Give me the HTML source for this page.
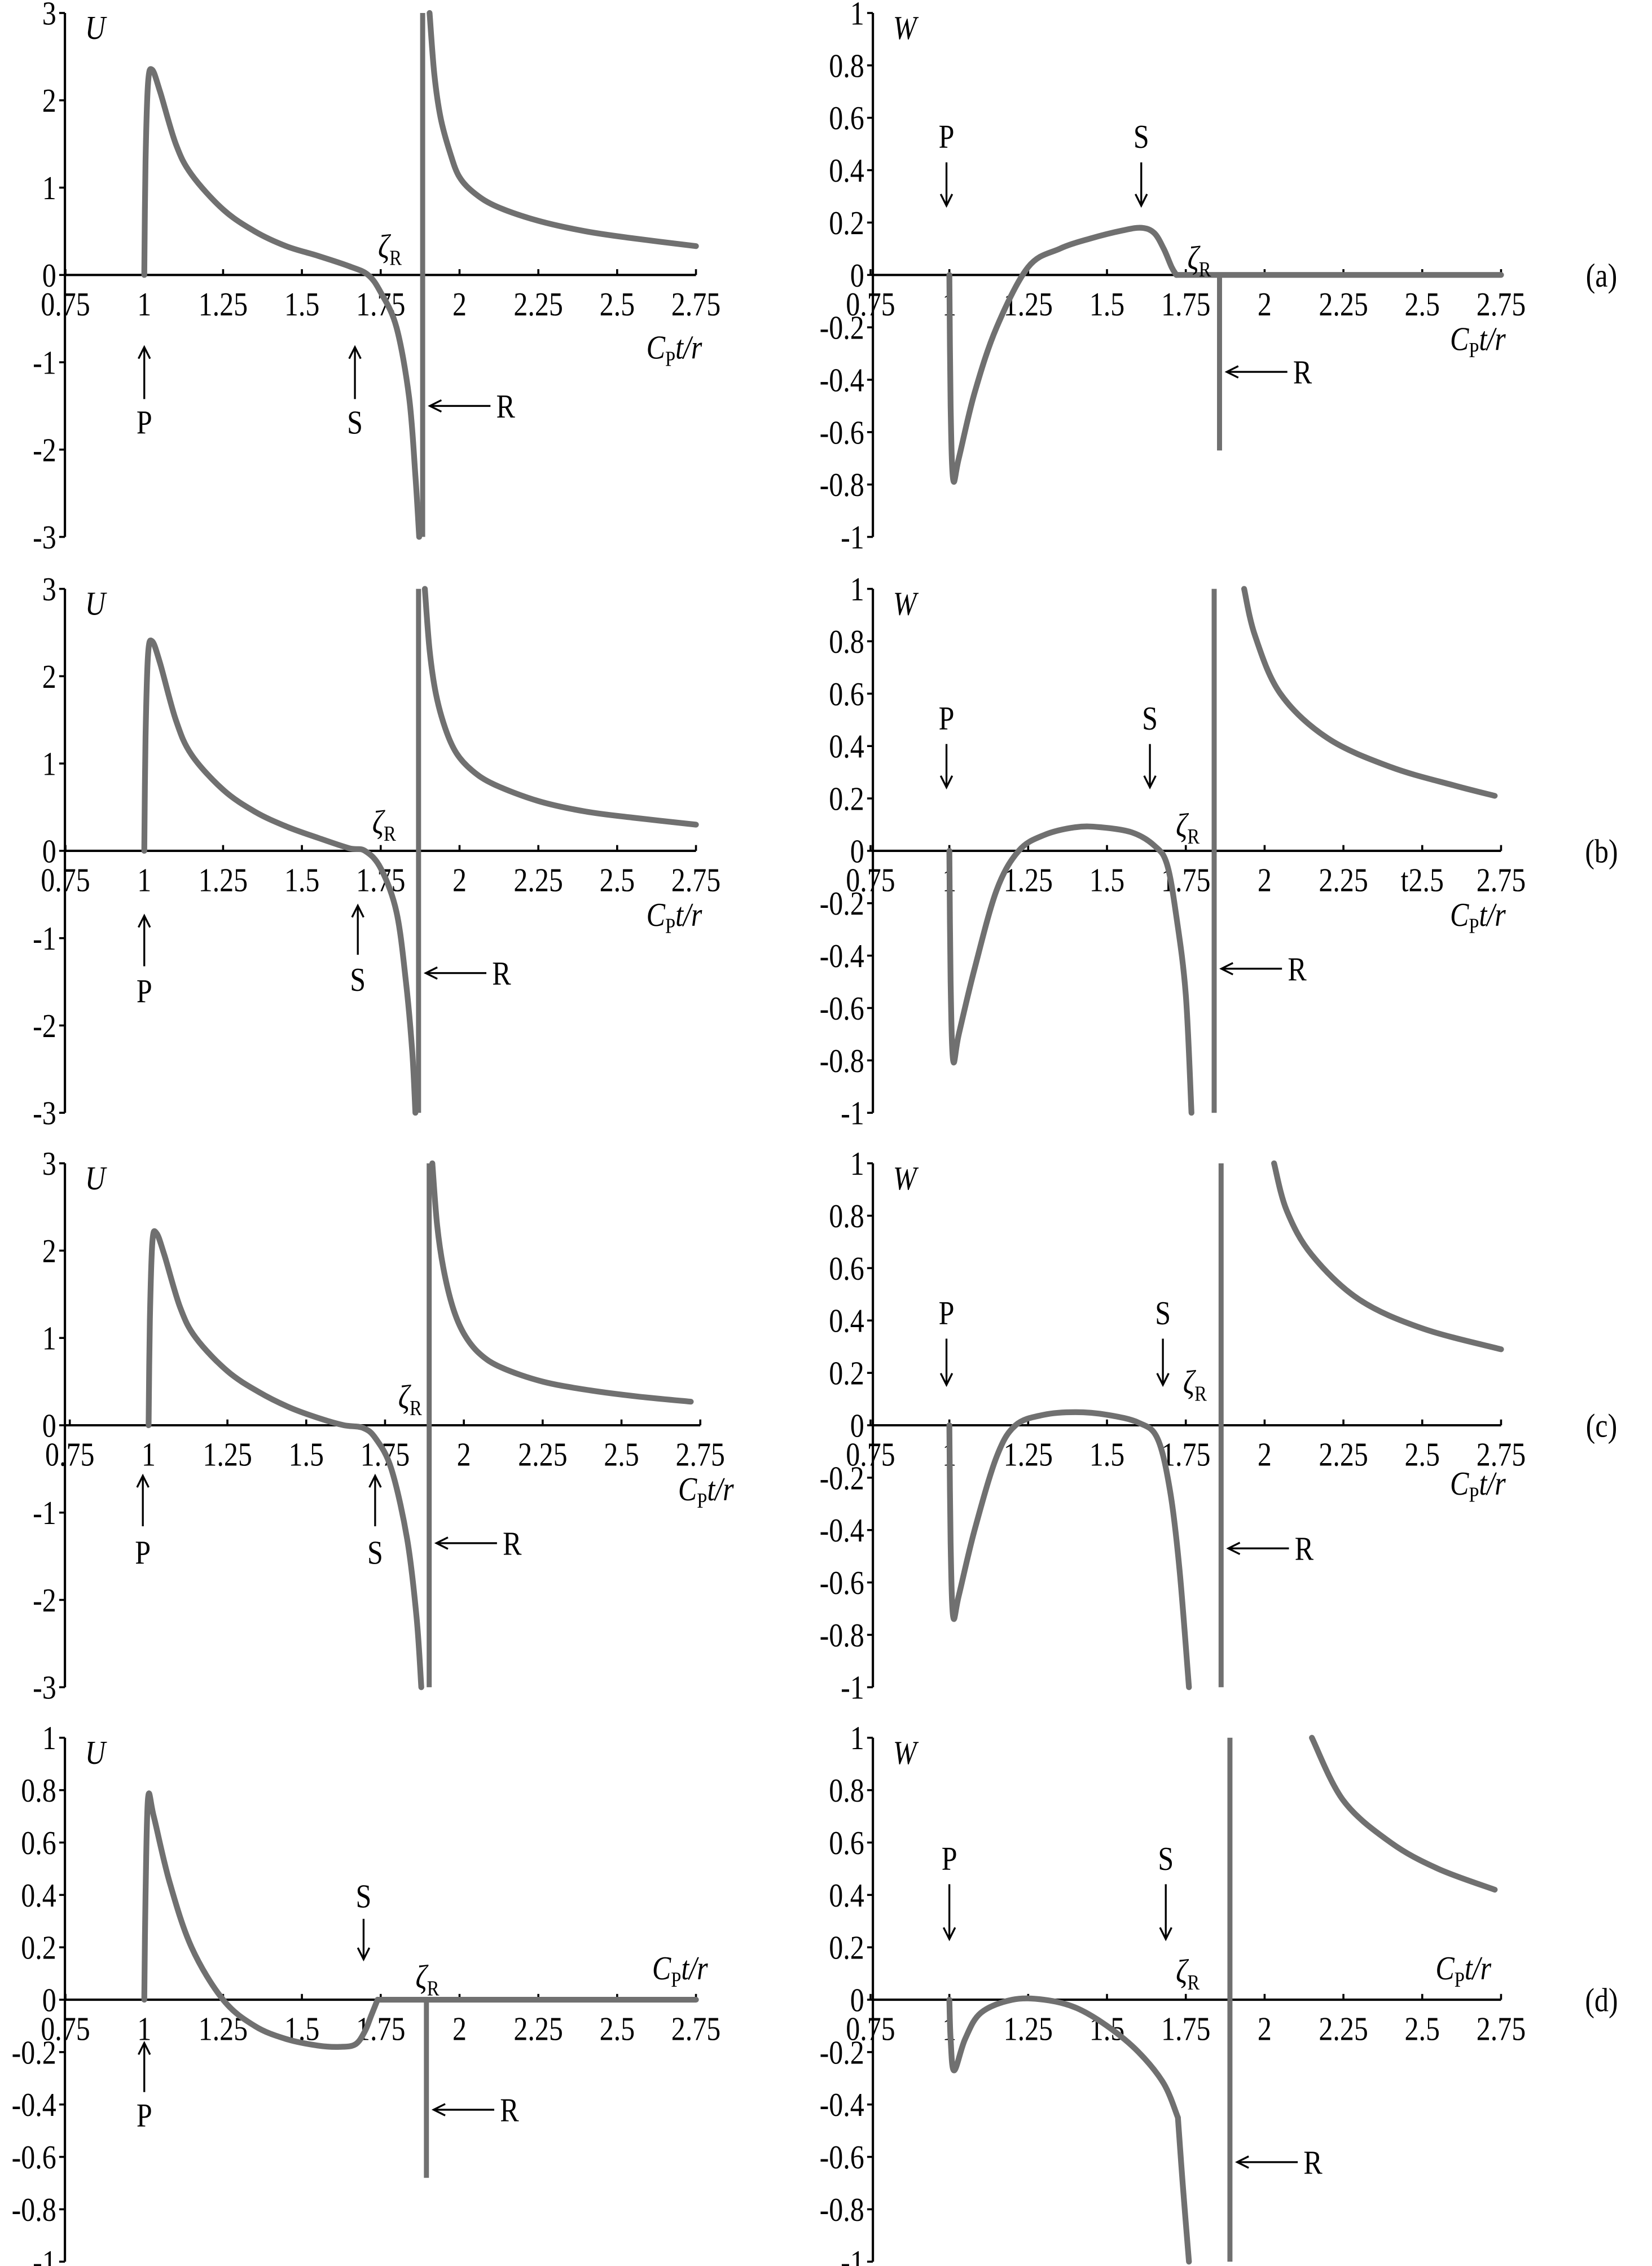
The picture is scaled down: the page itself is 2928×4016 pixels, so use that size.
<!DOCTYPE html>
<html><head><meta charset="utf-8"><style>
html,body{margin:0;padding:0;background:#fff}
svg{display:block}
text{font-family:"Liberation Serif","Times New Roman",serif;fill:#000}
</style></head><body>
<svg id="s" width="2928" height="4016" viewBox="0 0 1145 1570" preserveAspectRatio="none" xmlns="http://www.w3.org/2000/svg"></svg>
<script>
const S=document.getElementById('s');const NS='http://www.w3.org/2000/svg';
function el(n,a,t){const e=document.createElementNS(NS,n);for(const k in a)e.setAttribute(k,a[k]);if(t!==undefined)e.textContent=t;S.appendChild(e);return e;}
function cr(P){
 let d='M'+P[0][0].toFixed(2)+' '+P[0][1].toFixed(2);
 for(let i=0;i<P.length-1;i++){const p0=P[Math.max(0,i-1)],p1=P[i],p2=P[i+1],p3=P[Math.min(P.length-1,i+2)];
 const c1=[p1[0]+(p2[0]-p0[0])/6,p1[1]+(p2[1]-p0[1])/6],c2=[p2[0]-(p3[0]-p1[0])/6,p2[1]-(p3[1]-p1[1])/6];
 d+=' C'+c1.map(v=>v.toFixed(2)).join(' ')+' '+c2.map(v=>v.toFixed(2)).join(' ')+' '+p2[0].toFixed(2)+' '+p2[1].toFixed(2);}
 return d;}
const G='#707070';
function T(x,y,s,extra){const a=Object.assign({x:x,y:y,'font-size':23,transform:`translate(${x} ${y}) scale(0.85 1) translate(${-x} ${-y})`},extra||{});return el('text',a,s);}
function panel(o){
 const X=t=>o.x1+(t-1)*218.5, Y=v=>o.top+(o.ymax-v)/(o.ymax-o.ymin)*o.h, z=Y(0);
 el('line',{x1:o.ax,y1:o.top,x2:o.ax,y2:o.top+o.h,stroke:'#000','stroke-width':1.6});
 el('line',{x1:o.ax,y1:z,x2:X(2.75),y2:z,stroke:'#000','stroke-width':1.6});
 const n=Math.round((o.ymax-o.ymin)/o.step);
 for(let i=0;i<=n;i++){const v=o.ymin+i*o.step,y=Y(v);
  el('line',{x1:o.ax-4,y1:y,x2:o.ax,y2:y,stroke:'#000','stroke-width':1.4});
  let s=Math.abs(v)<1e-9?'0':(+v.toFixed(1)).toString();
  T(o.ax-6,y+8,s,{'text-anchor':'end'});}
 const xl=['0.75','1','1.25','1.5','1.75','2','2.25','2.5','2.75'];
 xl.forEach((s,i)=>{const t=0.75+i*0.25,x=X(t);el('line',{x1:x,y1:z-4,x2:x,y2:z,stroke:'#000','stroke-width':1.4});
  T(x,z+28,(o.xfix&&o.xfix[i])||s,{'text-anchor':'middle'});});
 T(o.ax+14,o.top+18,o.name,{'font-style':'italic'});
 o.curves.forEach(c=>el('path',{d:cr(c.map(p=>[X(p[0]),Y(p[1])])),fill:'none',stroke:G,'stroke-width':4,'stroke-linejoin':'round','stroke-linecap':'round'}));
 (o.lines||[]).forEach(l=>el('line',{x1:X(l[0]),y1:Y(l[1]),x2:X(l[0]),y2:Y(l[2]),stroke:G,'stroke-width':3.5}));
 const cp=o.cp; const t=T(cp[0],z+cp[1],'',{'font-style':'italic'});
 t.innerHTML='C<tspan font-size="15" font-style="normal" dy="5">P</tspan><tspan dy="-5">t/r</tspan>';
 const zt=T(o.zeta[0],z+o.zeta[1],'',{'font-style':'italic'});
 zt.innerHTML='ζ<tspan font-size="15" font-style="normal" dy="5">R</tspan>';
 (o.arrows||[]).forEach(a=>{
  const [lab,x,yl,y1,y2]=a; T(x,z+yl,lab,{'text-anchor':'middle'});
  el('line',{x1:x,y1:z+y1,x2:x,y2:z+y2,stroke:'#000','stroke-width':1.3});
  const d=y2>y1?-1:1; el('polyline',{points:`${x-4},${z+y2+8*d} ${x},${z+y2} ${x+4},${z+y2+8*d}`,fill:'none',stroke:'#000','stroke-width':1.3});});
 if(o.R){const x=X(o.R[0])+5,y=Y(o.R[1]);el('line',{x1:x,y1:y,x2:x+42,y2:y,stroke:'#000','stroke-width':1.3});
  el('polyline',{points:`${x+8},${y-4} ${x},${y} ${x+8},${y+4}`,fill:'none',stroke:'#000','stroke-width':1.3});
  T(x+46,y+8,'R');}
 if(o.lab)T(1110,z+8,o.lab,{'text-anchor':'middle'});
}
const tops=[9,408,806,1204],H=363;
const rb=(t0,a)=>[[t0,3],[t0+0.015,2.3],[t0+0.035,1.8],[t0+0.065,1.4],[t0+0.1,1.15],[t0+0.15,0.95],[t0+0.22,0.8],[t0+0.32,0.66],[t0+0.45,0.54],[t0+0.6,0.46]].map(p=>[p[0],p[1]*a]).concat([[2.75,0.33*a]]);
panel({ax:45,x1:100,top:tops[0],h:H,ymax:3,ymin:-3,step:1,name:'U',
 curves:[[[1,0],[1.004,1.3],[1.012,2.2],[1.025,2.35],[1.05,2.1],[1.1,1.5],[1.15,1.15],[1.25,0.75],[1.35,0.5],[1.45,0.33],[1.55,0.22],[1.65,0.1],[1.71,0],[1.75,-0.2],[1.8,-0.6],[1.84,-1.4],[1.86,-2.3],[1.872,-3]],
  [[1.905,3],[1.92,2.3],[1.94,1.8],[1.97,1.4],[2.0,1.12],[2.05,0.93],[2.12,0.78],[2.25,0.62],[2.4,0.5],[2.55,0.42],[2.75,0.33]]],
 lines:[[1.883,3,-3]],cp:[448,58],zeta:[262,-12],
 arrows:[['P',100,110,86,50],['S',246,110,86,50]],R:[1.883,-1.5]});
panel({ax:605,x1:658,top:tops[0],h:H,ymax:1,ymin:-1,step:0.2,name:'W',
 curves:[[[1,0],[1.004,-0.5],[1.012,-0.78],[1.03,-0.7],[1.08,-0.45],[1.15,-0.2],[1.25,0.03],[1.35,0.1],[1.45,0.14],[1.55,0.17],[1.61,0.18],[1.65,0.16],[1.68,0.1],[1.705,0.03],[1.72,0]],[[1.72,0],[2.75,0]]],
 lines:[[1.857,0,-0.67]],cp:[1005,52],zeta:[823,-4],
 arrows:[['P',656,-88,-78,-48],['S',791,-88,-78,-48]],R:[1.857,-0.37],lab:'(a)'});
panel({ax:45,x1:100,top:tops[1],h:H,ymax:3,ymin:-3,step:1,name:'U',
 curves:[[[1,0],[1.004,1.3],[1.012,2.25],[1.025,2.4],[1.05,2.15],[1.1,1.5],[1.15,1.1],[1.25,0.7],[1.35,0.45],[1.45,0.28],[1.55,0.15],[1.65,0.03],[1.7,0],[1.75,-0.2],[1.8,-0.7],[1.83,-1.5],[1.85,-2.3],[1.86,-3]],
  [[1.89,3],[1.905,2.3],[1.925,1.8],[1.955,1.4],[1.99,1.12],[2.04,0.92],[2.11,0.76],[2.25,0.57],[2.4,0.45],[2.55,0.38],[2.75,0.3]]],
 lines:[[1.87,3,-3]],cp:[448,52],zeta:[258,-12],
 arrows:[['P',100,105,80,45],['S',248,97,72,38]],R:[1.87,-1.4]});
panel({ax:605,x1:658,top:tops[1],h:H,ymax:1,ymin:-1,step:0.2,name:'W',
 curves:[[[1,0],[1.004,-0.5],[1.012,-0.8],[1.03,-0.7],[1.08,-0.45],[1.15,-0.15],[1.22,0],[1.3,0.06],[1.4,0.09],[1.48,0.09],[1.58,0.07],[1.65,0.02],[1.69,-0.05],[1.72,-0.25],[1.75,-0.55],[1.768,-1]],
  [[1.935,1],[1.97,0.82],[2.05,0.6],[2.2,0.43],[2.4,0.32],[2.6,0.25],[2.73,0.21]]],
 lines:[[1.84,1,-1]],cp:[1005,52],zeta:[815,-10],
 xfix:[null,null,null,null,null,null,null,'t2.5',null],
 arrows:[['P',656,-84,-74,-44],['S',797,-84,-74,-44]],R:[1.84,-0.45],lab:'(b)'});
panel({ax:45,x1:103,top:tops[2],h:H,ymax:3,ymin:-3,step:1,name:'U',
 curves:[[[1,0],[1.004,1.2],[1.012,2.1],[1.025,2.2],[1.05,1.95],[1.1,1.35],[1.15,1.0],[1.25,0.62],[1.35,0.38],[1.45,0.2],[1.55,0.07],[1.62,0],[1.68,-0.03],[1.72,-0.15],[1.77,-0.5],[1.82,-1.3],[1.85,-2.2],[1.865,-3]],
  [[1.9,3],[1.915,2.3],[1.935,1.8],[1.965,1.35],[2.0,1.05],[2.05,0.82],[2.12,0.66],[2.25,0.5],[2.4,0.4],[2.55,0.33],[2.72,0.27]]],
 lines:[[1.89,3,-3]],cp:[470,52],zeta:[276,-12],
 arrows:[['P',99,96,70,35],['S',260,96,70,35]],R:[1.89,-1.35]});
panel({ax:605,x1:658,top:tops[2],h:H,ymax:1,ymin:-1,step:0.2,name:'W',
 curves:[[[1,0],[1.004,-0.45],[1.012,-0.73],[1.03,-0.65],[1.08,-0.4],[1.15,-0.12],[1.21,0],[1.3,0.04],[1.4,0.05],[1.5,0.04],[1.6,0.01],[1.66,-0.05],[1.7,-0.25],[1.73,-0.55],[1.76,-1]],
  [[2.03,1],[2.07,0.82],[2.15,0.65],[2.3,0.48],[2.5,0.37],[2.75,0.29]]],
 lines:[[1.862,1,-1]],cp:[1005,48],zeta:[820,-22],
 arrows:[['P',656,-70,-60,-28],['S',806,-70,-60,-28]],R:[1.862,-0.47],lab:'(c)'});
panel({ax:45,x1:100,top:tops[3],h:H,ymax:1,ymin:-1,step:0.2,name:'U',
 curves:[[[1,0],[1.004,0.4],[1.012,0.77],[1.03,0.7],[1.08,0.45],[1.15,0.2],[1.25,0],[1.35,-0.1],[1.45,-0.15],[1.55,-0.175],[1.62,-0.18],[1.67,-0.17],[1.7,-0.12],[1.72,-0.06],[1.74,0]],[[1.74,0],[2.75,0]]],
 lines:[[1.895,0,-0.68]],cp:[452,-14],zeta:[288,-8],
 arrows:[['P',100,88,64,30],['S',252,-64,-56,-28]],R:[1.895,-0.42]});
panel({ax:605,x1:658,top:tops[3],h:H,ymax:1,ymin:-1,step:0.2,name:'W',
 curves:[[[1,0],[1.004,-0.15],[1.015,-0.27],[1.05,-0.15],[1.1,-0.05],[1.2,0],[1.3,0],[1.4,-0.03],[1.5,-0.1],[1.6,-0.2],[1.68,-0.32],[1.725,-0.45]],[[1.725,-0.45],[1.74,-0.7],[1.76,-1]],
  [[2.15,1],[2.25,0.76],[2.4,0.6],[2.55,0.5],[2.73,0.42]]],
 lines:[[1.89,1,-1]],cp:[995,-14],zeta:[815,-12],
 arrows:[['P',658,-90,-80,-42],['S',808,-90,-80,-42]],R:[1.89,-0.62],lab:'(d)'});
</script>
</body></html>
